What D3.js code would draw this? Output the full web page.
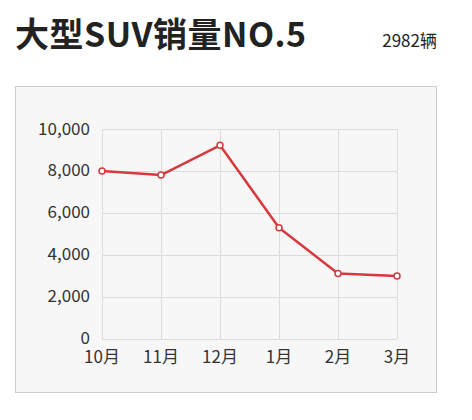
<!DOCTYPE html>
<html><head><meta charset="utf-8">
<script src="https://cdn.jsdelivr.net/npm/d3@7"></script>
<style>body{margin:0;background:#fff;}svg{display:block;font-family:"Noto Sans CJK SC","Noto Sans",sans-serif;}</style>
</head><body>
<svg id="c" width="472" height="420"></svg>
<script>
const categories = ["10月","11月","12月","1月","2月","3月"];
const sales = [7990, 7800, 9220, 5290, 3100, 2982];
const yTicks = [0, 2000, 4000, 6000, 8000, 10000];
const title = "大型SUV销量NO.5";
const subtitle = "2982辆";

const svg = d3.select("#c");
svg.append("text").attr("x", 15).attr("y", 47).attr("font-size", 34).attr("font-weight", 700)
  .attr("letter-spacing", 0.5).attr("fill", "#222").text(title);
svg.append("text").attr("x", 437).attr("y", 47).attr("font-size", 17).attr("text-anchor", "end")
  .attr("fill", "#222").text(subtitle);

svg.append("rect").attr("x", 15.5).attr("y", 86.5).attr("width", 421).attr("height", 306)
  .attr("fill", "#f7f7f7").attr("stroke", "#cccccc");

const x = d3.scalePoint().domain(categories).range([102, 397]);
const y = d3.scaleLinear().domain([0, 10000]).range([338.5, 129]);

const g = svg.append("g");
g.selectAll(".hg").data(yTicks).join("line")
  .attr("x1", 102).attr("x2", 397)
  .attr("y1", d => Math.round(y(d)) + 0.5).attr("y2", d => Math.round(y(d)) + 0.5)
  .attr("stroke", "#dcdcdc").attr("stroke-width", 1);
g.selectAll(".vg").data(categories).join("line")
  .attr("x1", d => Math.round(x(d)) + 0.5).attr("x2", d => Math.round(x(d)) + 0.5)
  .attr("y1", y(10000)).attr("y2", y(0) + 0.5)
  .attr("stroke", "#dcdcdc").attr("stroke-width", 1);

g.selectAll(".yl").data(yTicks).join("text")
  .attr("x", 90).attr("y", d => y(d) + 5.5).attr("text-anchor", "end")
  .attr("font-size", 17).attr("fill", "#333").text(d => d3.format(",")(d));
g.selectAll(".xl").data(categories).join("text")
  .attr("x", d => x(d)).attr("y", 363).attr("text-anchor", "middle")
  .attr("font-size", 17).attr("fill", "#333").text(d => d);

const line = d3.line().x((d, i) => x(categories[i])).y(d => y(d));
g.append("path").datum(sales).attr("d", line).attr("fill", "none")
  .attr("stroke", "#d6393e").attr("stroke-width", 2.5).attr("stroke-linejoin", "round");
g.selectAll(".pt").data(sales).join("circle")
  .attr("cx", (d, i) => x(categories[i])).attr("cy", d => y(d)).attr("r", 3)
  .attr("fill", "#fff").attr("stroke", "#d6393e").attr("stroke-width", 1.5);
</script>
</body></html>
